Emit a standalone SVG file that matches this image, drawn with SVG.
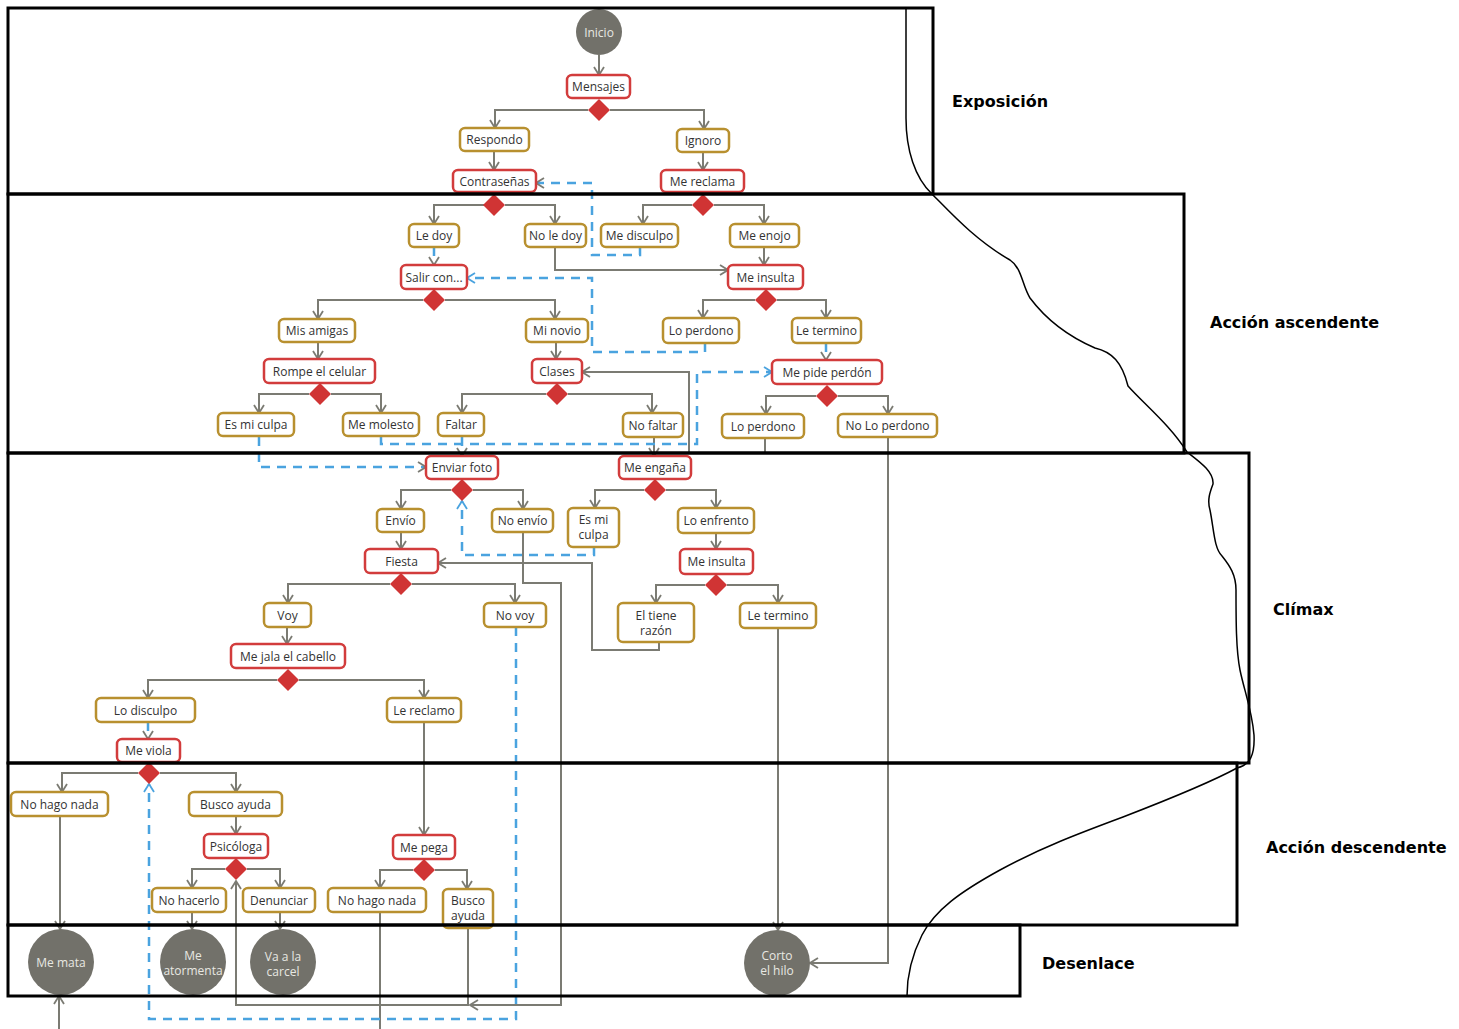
<svg xmlns="http://www.w3.org/2000/svg" width="1459" height="1029" viewBox="0 0 1459 1029">
<style>
.bg{fill:#ffffff}
.ev{fill:#fff;stroke:#d23c3c;stroke-width:2.5}
.ch{fill:#fff;stroke:#b8902f;stroke-width:2.5}
.t{font-family:"Open Sans","Noto Sans",sans-serif;font-size:12px;fill:#333;text-anchor:middle;dominant-baseline:central}
.ct{font-family:"Open Sans","Noto Sans",sans-serif;font-size:12px;fill:#e8e8e2;text-anchor:middle;dominant-baseline:central}
.circ{fill:#72716a}
.dia{fill:#d03434}
.g{fill:none;stroke:#7b7b73;stroke-width:2}
.b{fill:none;stroke:#4aa3df;stroke-width:2.5;stroke-dasharray:9 7}
.lane{fill:none;stroke:#000;stroke-width:3}
.lbl{font-family:"DejaVu Sans",sans-serif;font-weight:bold;font-size:16px;fill:#000}
.curve{fill:none;stroke:#000;stroke-width:1.5}
</style>
<defs>
<marker id="ag" viewBox="0 0 10 12" refX="9" refY="6" markerWidth="10" markerHeight="12" markerUnits="userSpaceOnUse" orient="auto"><path d="M1,1 L9,6 L1,11" fill="none" stroke="#7b7b73" stroke-width="1.8"/></marker>
<marker id="ab" viewBox="0 0 10 12" refX="9" refY="6" markerWidth="10" markerHeight="12" markerUnits="userSpaceOnUse" orient="auto"><path d="M1,1 L9,6 L1,11" fill="none" stroke="#4aa3df" stroke-width="1.8"/></marker>
<path id="dm" d="M0,-11 L11,0 L0,11 L-11,0Z"/>
</defs>
<rect class="bg" x="0" y="0" width="1459" height="1029"/>

<g id="connectors">
<path class="g" marker-end="url(#ag)" d="M599,55 V75"/>
<path class="g" marker-end="url(#ag)" d="M588,110 H495 V128"/>
<path class="g" marker-end="url(#ag)" d="M610,110 H704 V129"/>
<path class="g" marker-end="url(#ag)" d="M494,151 V170"/>
<path class="g" marker-end="url(#ag)" d="M703,152 V170"/>
<path class="g" marker-end="url(#ag)" d="M484,205 H434 V224"/>
<path class="g" marker-end="url(#ag)" d="M505,205 H555 V224"/>
<path class="g" marker-end="url(#ag)" d="M692,205 H643 V224"/>
<path class="g" marker-end="url(#ag)" d="M714,205 H764 V224"/>
<path class="g" marker-end="url(#ag)" d="M555,247 V270 H728"/>
<path class="g" marker-end="url(#ag)" d="M764,247 V265"/>
<path class="g" marker-end="url(#ag)" d="M423,300 H318 V319"/>
<path class="g" marker-end="url(#ag)" d="M445,300 H555 V319"/>
<path class="g" marker-end="url(#ag)" d="M755,300 H703 V318"/>
<path class="g" marker-end="url(#ag)" d="M777,300 H826 V318"/>
<path class="g" marker-end="url(#ag)" d="M318,342 V359"/>
<path class="g" marker-end="url(#ag)" d="M556,342 V359"/>
<path class="g" marker-end="url(#ag)" d="M309,394 H259 V413"/>
<path class="g" marker-end="url(#ag)" d="M331,394 H381 V413"/>
<path class="g" marker-end="url(#ag)" d="M546,394 H462 V413"/>
<path class="g" marker-end="url(#ag)" d="M568,394 H652 V413"/>
<path class="g" marker-end="url(#ag)" d="M816,396 H766 V414"/>
<path class="g" marker-end="url(#ag)" d="M838,396 H888 V414"/>
<path class="g" marker-end="url(#ag)" d="M654,437 V456"/>
<path class="g" marker-end="url(#ag)" d="M765,438 V453 H689 V372 H582"/>
<path class="g" marker-end="url(#ag)" d="M888,437 V963 H810"/>
<path class="g" marker-end="url(#ag)" d="M451,490 H401 V509"/>
<path class="g" marker-end="url(#ag)" d="M473,490 H523 V509"/>
<path class="g" marker-end="url(#ag)" d="M644,490 H595 V508"/>
<path class="g" marker-end="url(#ag)" d="M666,490 H716 V508"/>
<path class="g" marker-end="url(#ag)" d="M401,532 V549"/>
<path class="g" marker-end="url(#ag)" d="M716,533 V549"/>
<path class="g" marker-end="url(#ag)" d="M705,585 H656 V603"/>
<path class="g" marker-end="url(#ag)" d="M727,585 H778 V603"/>
<path class="g" marker-end="url(#ag)" d="M659,642 V650 H592 V563 H438"/>
<path class="g" marker-end="url(#ag)" d="M523,532 V583 H561 V1005 H470"/>
<path class="g" marker-end="url(#ag)" d="M390,584 H288 V603"/>
<path class="g" marker-end="url(#ag)" d="M412,584 H515 V603"/>
<path class="g" marker-end="url(#ag)" d="M287,627 V644"/>
<path class="g" marker-end="url(#ag)" d="M277,680 H148 V698"/>
<path class="g" marker-end="url(#ag)" d="M299,680 H424 V698"/>
<path class="g" marker-end="url(#ag)" d="M424,722 V835"/>
<path class="g" marker-end="url(#ag)" d="M778,628 V930"/>
<path class="g" marker-end="url(#ag)" d="M138,773 H62 V792"/>
<path class="g" marker-end="url(#ag)" d="M160,773 H236 V792"/>
<path class="g" marker-end="url(#ag)" d="M236,816 V834"/>
<path class="g" marker-end="url(#ag)" d="M225,869 H192 V888"/>
<path class="g" marker-end="url(#ag)" d="M247,869 H280 V888"/>
<path class="g" marker-end="url(#ag)" d="M413,870 H380 V888"/>
<path class="g" marker-end="url(#ag)" d="M435,870 H467 V889"/>
<path class="g" marker-end="url(#ag)" d="M60,816 V929"/>
<path class="g" marker-end="url(#ag)" d="M192,912 V929"/>
<path class="g" marker-end="url(#ag)" d="M280,912 V929"/>
<path class="g" marker-end="url(#ag)" d="M468,928 V1005 H236 V881"/>
<path class="g" marker-end="url(#ag)" d="M380,912 V1045 H59 V996"/>

<path class="b" marker-end="url(#ag)" d="M640,247 V255 H592 V183 H536"/>
<path class="b" marker-end="url(#ab)" d="M705,343 V352 H592 V278 H467"/>
<path class="b" marker-end="url(#ag)" d="M434,247 V265"/>
<path class="b" marker-end="url(#ag)" d="M826,343 V360"/>
<path class="b" marker-end="url(#ab)" d="M381,437 V444 H697 V372 H772"/>
<path class="b" marker-end="url(#ag)" d="M259,437 V467 H426"/>
<path class="b" marker-end="url(#ag)" d="M462,437 V456"/>
<path class="b" marker-end="url(#ab)" d="M594,547 V555 H462 V501"/>
<path class="b" marker-end="url(#ab)" d="M516,627 V1019 H149 V784"/>
<path class="b" marker-end="url(#ag)" d="M148,722 V739"/>
</g>

<g id="n-inicio"><circle class="circ" cx="599" cy="32" r="23"/><text class="ct" x="599" y="32">Inicio</text></g>
<g id="n-mensajes"><rect class="ev" x="567" y="75" width="63" height="23" rx="5"/><text class="t" x="598.5" y="86.5">Mensajes</text></g>
<g id="d-mensajes"><use href="#dm" class="dia" x="599" y="110"/></g>
<g id="n-respondo"><rect class="ch" x="460" y="128" width="69" height="23" rx="5"/><text class="t" x="494.5" y="139.5">Respondo</text></g>
<g id="n-ignoro"><rect class="ch" x="677" y="129" width="52" height="23" rx="5"/><text class="t" x="703" y="140.5">Ignoro</text></g>
<g id="n-contrasenas"><rect class="ev" x="453" y="170" width="83" height="22" rx="5"/><text class="t" x="494.5" y="181">Contraseñas</text></g>
<g id="n-mereclama"><rect class="ev" x="661" y="170" width="83" height="22" rx="5"/><text class="t" x="702.5" y="181">Me reclama</text></g>
<g id="d-contrasenas"><use href="#dm" class="dia" x="494" y="205"/></g>
<g id="d-mereclama"><use href="#dm" class="dia" x="703" y="205"/></g>

<g id="n-ledoy"><rect class="ch" x="409" y="224" width="50" height="23" rx="5"/><text class="t" x="434" y="235.5">Le doy</text></g>
<g id="n-noledoy"><rect class="ch" x="525" y="224" width="61" height="23" rx="5"/><text class="t" x="555.5" y="235.5">No le doy</text></g>
<g id="n-medisculpo"><rect class="ch" x="601" y="224" width="77" height="23" rx="5"/><text class="t" x="639.5" y="235.5">Me disculpo</text></g>
<g id="n-meenojo"><rect class="ch" x="730" y="224" width="69" height="23" rx="5"/><text class="t" x="764.5" y="235.5">Me enojo</text></g>
<g id="n-salircon"><rect class="ev" x="401" y="265" width="66" height="24" rx="5"/><text class="t" x="434" y="277">Salir con...</text></g>
<g id="n-meinsulta1"><rect class="ev" x="728" y="265" width="75" height="24" rx="5"/><text class="t" x="765.5" y="277">Me insulta</text></g>
<g id="d-salircon"><use href="#dm" class="dia" x="434" y="300"/></g>
<g id="d-meinsulta1"><use href="#dm" class="dia" x="766" y="300"/></g>
<g id="n-misamigas"><rect class="ch" x="279" y="319" width="76" height="23" rx="5"/><text class="t" x="317" y="330.5">Mis amigas</text></g>
<g id="n-minovio"><rect class="ch" x="526" y="319" width="62" height="23" rx="5"/><text class="t" x="557" y="330.5">Mi novio</text></g>
<g id="n-loperdono1"><rect class="ch" x="663" y="318" width="76" height="25" rx="5"/><text class="t" x="701" y="330.5">Lo perdono</text></g>
<g id="n-letermino1"><rect class="ch" x="792" y="318" width="69" height="25" rx="5"/><text class="t" x="826.5" y="330.5">Le termino</text></g>
<g id="n-rompe"><rect class="ev" x="264" y="359" width="111" height="24" rx="5"/><text class="t" x="319.5" y="371">Rompe el celular</text></g>
<g id="n-clases"><rect class="ev" x="532" y="359" width="50" height="24" rx="5"/><text class="t" x="557" y="371">Clases</text></g>
<g id="n-mepideperdon"><rect class="ev" x="772" y="360" width="110" height="24" rx="5"/><text class="t" x="827" y="372">Me pide perdón</text></g>
<g id="d-rompe"><use href="#dm" class="dia" x="320" y="394"/></g>
<g id="d-clases"><use href="#dm" class="dia" x="557" y="394"/></g>
<g id="d-mepideperdon"><use href="#dm" class="dia" x="827" y="396"/></g>
<g id="n-esmiculpa1"><rect class="ch" x="218" y="413" width="76" height="23" rx="5"/><text class="t" x="256" y="424.5">Es mi culpa</text></g>
<g id="n-memolesto"><rect class="ch" x="343" y="413" width="76" height="23" rx="5"/><text class="t" x="381" y="424.5">Me molesto</text></g>
<g id="n-faltar"><rect class="ch" x="438" y="413" width="46" height="23" rx="5"/><text class="t" x="461" y="424.5">Faltar</text></g>
<g id="n-nofaltar"><rect class="ch" x="623" y="413" width="60" height="24" rx="5"/><text class="t" x="653" y="425">No faltar</text></g>
<g id="n-loperdono2"><rect class="ch" x="722" y="414" width="82" height="24" rx="5"/><text class="t" x="763" y="426">Lo perdono</text></g>
<g id="n-noloperdono"><rect class="ch" x="838" y="414" width="99" height="23" rx="5"/><text class="t" x="887.5" y="425.5">No Lo perdono</text></g>

<g id="n-enviarfoto"><rect class="ev" x="426" y="456" width="72" height="23" rx="5"/><text class="t" x="462" y="467.5">Enviar foto</text></g>
<g id="n-meengana"><rect class="ev" x="619" y="456" width="72" height="23" rx="5"/><text class="t" x="655" y="467.5">Me engaña</text></g>
<g id="d-enviarfoto"><use href="#dm" class="dia" x="462" y="490"/></g>
<g id="d-meengana"><use href="#dm" class="dia" x="655" y="490"/></g>
<g id="n-envio"><rect class="ch" x="377" y="509" width="47" height="23" rx="5"/><text class="t" x="400.5" y="520.5">Envío</text></g>
<g id="n-noenvio"><rect class="ch" x="492" y="509" width="61" height="23" rx="5"/><text class="t" x="522.5" y="520.5">No envío</text></g>
<g id="n-esmiculpa2"><rect class="ch" x="568" y="508" width="51" height="39" rx="5"/><text class="t" x="593.5" y="519.5">Es mi</text><text class="t" x="593.5" y="534.5">culpa</text></g>
<g id="n-loenfrento"><rect class="ch" x="678" y="508" width="76" height="25" rx="5"/><text class="t" x="716" y="520.5">Lo enfrento</text></g>
<g id="n-fiesta"><rect class="ev" x="365" y="549" width="73" height="24" rx="5"/><text class="t" x="401.5" y="561">Fiesta</text></g>
<g id="n-meinsulta2"><rect class="ev" x="680" y="549" width="73" height="25" rx="5"/><text class="t" x="716.5" y="561.5">Me insulta</text></g>
<g id="d-fiesta"><use href="#dm" class="dia" x="401" y="584"/></g>
<g id="d-meinsulta2"><use href="#dm" class="dia" x="716" y="585"/></g>
<g id="n-voy"><rect class="ch" x="264" y="603" width="47" height="24" rx="5"/><text class="t" x="287.5" y="615">Voy</text></g>
<g id="n-novoy"><rect class="ch" x="484" y="603" width="62" height="24" rx="5"/><text class="t" x="515" y="615">No voy</text></g>
<g id="n-eltienerazon"><rect class="ch" x="618" y="603" width="76" height="39" rx="5"/><text class="t" x="656" y="615.5">El tiene</text><text class="t" x="656" y="630">razón</text></g>
<g id="n-letermino2"><rect class="ch" x="740" y="603" width="76" height="25" rx="5"/><text class="t" x="778" y="615.5">Le termino</text></g>
<g id="n-mejala"><rect class="ev" x="231" y="644" width="114" height="24" rx="5"/><text class="t" x="288" y="656">Me jala el cabello</text></g>
<g id="d-mejala"><use href="#dm" class="dia" x="288" y="680"/></g>
<g id="n-lodisculpo"><rect class="ch" x="96" y="698" width="99" height="24" rx="5"/><text class="t" x="145.5" y="710">Lo disculpo</text></g>
<g id="n-lereclamo"><rect class="ch" x="387" y="698" width="74" height="24" rx="5"/><text class="t" x="424" y="710">Le reclamo</text></g>
<g id="n-meviola"><rect class="ev" x="117" y="739" width="63" height="23" rx="5"/><text class="t" x="148.5" y="750.5">Me viola</text></g>

<g id="d-meviola"><use href="#dm" class="dia" x="149" y="773"/></g>
<g id="n-nohagonada1"><rect class="ch" x="11" y="792" width="97" height="24" rx="5"/><text class="t" x="59.5" y="804">No hago nada</text></g>
<g id="n-buscoayuda1"><rect class="ch" x="189" y="792" width="93" height="24" rx="5"/><text class="t" x="235.5" y="804">Busco ayuda</text></g>
<g id="n-psicologa"><rect class="ev" x="204" y="834" width="64" height="24" rx="5"/><text class="t" x="236" y="846">Psicóloga</text></g>
<g id="n-mepega"><rect class="ev" x="393" y="835" width="62" height="24" rx="5"/><text class="t" x="424" y="847">Me pega</text></g>
<g id="d-psicologa"><use href="#dm" class="dia" x="236" y="869"/></g>
<g id="d-mepega"><use href="#dm" class="dia" x="424" y="870"/></g>
<g id="n-nohacerlo"><rect class="ch" x="152" y="888" width="74" height="24" rx="5"/><text class="t" x="189" y="900">No hacerlo</text></g>
<g id="n-denunciar"><rect class="ch" x="243" y="888" width="72" height="24" rx="5"/><text class="t" x="279" y="900">Denunciar</text></g>
<g id="n-nohagonada2"><rect class="ch" x="328" y="888" width="98" height="24" rx="5"/><text class="t" x="377" y="900">No hago nada</text></g>
<g id="n-buscoayuda2"><rect class="ch" x="443" y="889" width="50" height="39" rx="5"/><text class="t" x="468" y="900">Busco</text><text class="t" x="468" y="915">ayuda</text></g>

<g id="n-memata"><circle class="circ" cx="61" cy="962" r="33"/><text class="ct" x="61" y="962">Me mata</text></g>
<g id="n-meatormenta"><circle class="circ" cx="193" cy="962" r="33"/><text class="ct" x="193" y="955">Me</text><text class="ct" x="193" y="970">atormenta</text></g>
<g id="n-vaalacarcel"><circle class="circ" cx="283" cy="962" r="33"/><text class="ct" x="283" y="956">Va a la</text><text class="ct" x="283" y="971">carcel</text></g>
<g id="n-cortoelhilo"><circle class="circ" cx="777" cy="963" r="33"/><text class="ct" x="777" y="955">Corto</text><text class="ct" x="777" y="970">el hilo</text></g>

<g id="lanes">
<rect class="lane" x="8" y="8" width="925" height="186"/>
<rect class="lane" x="8" y="194" width="1176" height="259"/>
<rect class="lane" x="8" y="453" width="1241" height="310"/>
<rect class="lane" x="8" y="763" width="1229" height="162"/>
<rect class="lane" x="8" y="925" width="1012" height="71"/>
<text class="lbl" x="952" y="107">Exposición</text>
<text class="lbl" x="1210" y="328">Acción ascendente</text>
<text class="lbl" x="1273" y="615">Clímax</text>
<text class="lbl" x="1266" y="853">Acción descendente</text>
<text class="lbl" x="1042" y="969">Desenlace</text>
<path class="curve" d="M906,8 L906,118 C906,150 915,178 932,194 C950,212 975,240 1010,260 C1022,268 1022,285 1030,298 C1045,318 1065,335 1095,348 C1112,352 1122,362 1128,386 C1145,405 1170,425 1187,452 C1200,462 1214,472 1213,484 C1210,492 1207,500 1210,510 C1214,530 1214,548 1222,556 C1230,566 1236,575 1236,590 C1236,620 1236,650 1240,670 C1244,690 1252,710 1254,735 C1255,755 1250,765 1237,768 C1215,780 1180,795 1123,817 C1080,833 1040,848 1000,870 C960,892 935,910 922,935 C912,955 907,975 907,996"/>
</g>
</svg>
